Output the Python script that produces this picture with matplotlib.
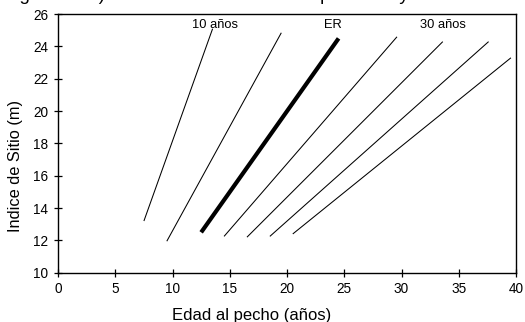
import matplotlib
matplotlib.use("Agg")
import matplotlib.pyplot as plt

plt.rcParams['font.family'] = ['Liberation Sans', 'DejaVu Sans']

# site index curves: start/end points of each line (edad al pecho, indice de sitio)
x_start = [7.5, 9.5, 12.5, 14.5, 16.5, 18.5, 20.5]
y_start = [13.2, 11.95, 12.5, 12.25, 12.2, 12.25, 12.4]
x_end = [13.5, 19.5, 24.5, 29.6, 33.6, 37.6, 39.55]
y_end = [25.1, 24.85, 24.5, 24.6, 24.3, 24.3, 23.3]
is_er = [False, False, True, False, False, False, False]

labels = ["10 años", "ER", "30 años"]
label_x = [13.75, 24.0, 33.6]
label_y = [25.3, 25.3, 25.3]

fig = plt.figure(figsize=(5.25, 3.22), dpi=100)
ax = fig.add_axes([0.1105, 0.153, 0.8725, 0.803])

for x0, y0, x1, y1, er in zip(x_start, y_start, x_end, y_end, is_er):
    ax.plot([x0, x1], [y0, y1], color='black',
            linewidth=3.0 if er else 0.75, solid_capstyle='butt')

for t, lx, ly in zip(labels, label_x, label_y):
    ax.text(lx, ly, t, ha='center', va='center', fontsize=9.3)

ax.set_xlim(0, 40)
ax.set_ylim(10, 26)
ax.set_xticks(range(0, 41, 5))
ax.set_yticks(range(10, 27, 2))
ax.tick_params(direction='inout', length=6, width=0.9, labelsize=9.8,
               top=False, right=False, pad=4)
for s in ax.spines.values():
    s.set_linewidth(1.0)

ax.set_xlabel("Edad al pecho (años)", fontsize=12, labelpad=3)
ax.xaxis.set_label_coords(0.4225, -0.135)
ax.set_ylabel("Indice de Sitio (m)", fontsize=11.8, labelpad=4)
ax.yaxis.set_label_coords(-0.076, 0.413)

# title cut off by the top edge of the picture
fig.text(4 / 525, 1.0, "Figura 10.3) Curvas de índice de sitio por edad y altura",
         ha='left', va='baseline', fontsize=13.5)

fig.savefig("out.png", dpi=100)
